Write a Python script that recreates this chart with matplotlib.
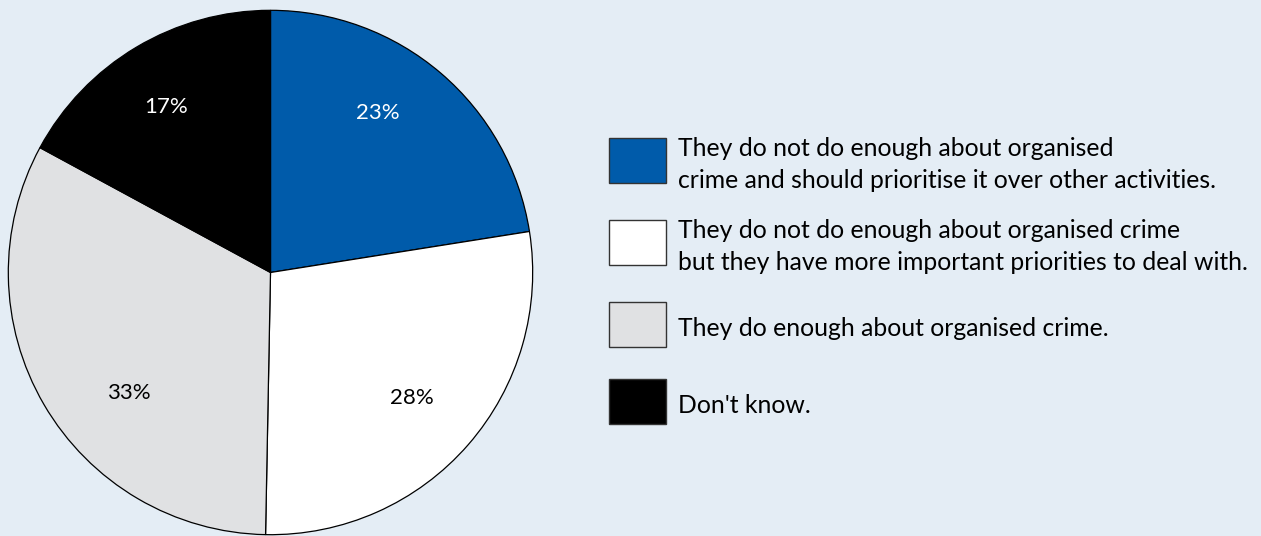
import matplotlib
matplotlib.use("Agg")
import matplotlib.pyplot as plt
from matplotlib.patches import Rectangle

plt.rcParams['font.family'] = ['Lato', 'DejaVu Sans']

# wedge sizes as drawn in the source, and the rounded percentages printed on them
shares = [22.5, 27.8, 32.6, 17.1]
printed = [23, 28, 33, 17]
colors = ['#005BAA', '#FFFFFF', '#E0E1E3', '#000000']
label_colors = ['white', 'black', 'black', 'white']
legend_labels = [
    "They do not do enough about organised\ncrime and should prioritise it over other activities.",
    "They do not do enough about organised crime\nbut they have more important priorities to deal with.",
    "They do enough about organised crime.",
    "Don't know.",
]
bg = '#E4EDF5'

W, H = 1261, 536
fig = plt.figure(figsize=(W / 100, H / 100), dpi=100, facecolor=bg)

# pie axes: 527 px square, left edge at x=7, bottom at y=0
ax = fig.add_axes([7 / W, 0 / H, 527 / W, 527 / H])
ax.set_facecolor(bg)
vals = iter(printed)
wedges, texts, autotexts = ax.pie(
    shares, colors=colors, startangle=90, counterclock=False,
    autopct=lambda p: f"{next(vals)}%", pctdistance=0.73,
    wedgeprops=dict(edgecolor='black', linewidth=0.9),
    textprops=dict(fontsize=16),
)
# nudge the percentage labels to where the original puts them
label_xy = [(0.41, 0.61), (0.54, -0.48), (-0.54, -0.46), (-0.40, 0.63)]
for t, c, xy in zip(autotexts, label_colors, label_xy):
    t.set_color(c)
    t.set_position(xy)
ax.set_xlim(-1.005, 1.005)
ax.set_ylim(-1.005, 1.005)
ax.set_aspect('equal')
ax.axis('off')

# legend drawn by hand in pixel coordinates
box_tops = [138, 220, 302, 379]
box_w, box_h = 57, 45
box_x = 609
for top, col, lab in zip(box_tops, colors, legend_labels):
    y0 = H - top - box_h
    fig.patches.append(Rectangle((box_x / W, y0 / H), box_w / W, box_h / H,
                                 transform=fig.transFigure, facecolor=col,
                                 edgecolor='#333333', linewidth=1.0))
    fig.text(678 / W, (y0 + box_h / 2 - 4) / H, lab, fontsize=17.8,
             va='center', ha='left', color='black', linespacing=1.5)

fig.savefig('out.png', dpi=100, facecolor=bg)
